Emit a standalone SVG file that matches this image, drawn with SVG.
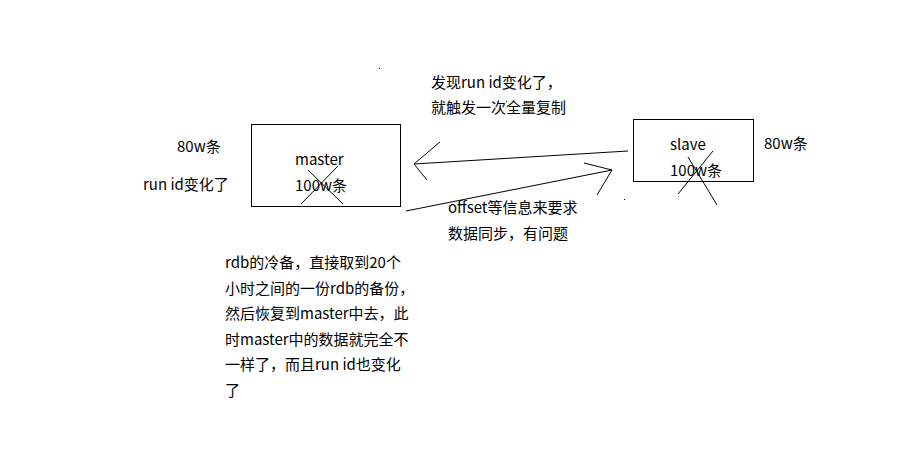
<svg xmlns="http://www.w3.org/2000/svg" width="898" height="455" viewBox="0 0 898 455">
<style>
text{font-family:"Noto Sans CJK SC","Noto Sans",sans-serif;font-size:15px;fill:#000}
.box{fill:none;stroke:#000;stroke-width:1}
.ln{stroke:#000;stroke-width:1;fill:none}
</style>
<rect width="898" height="455" fill="#fff"/>
<g id="master">
<rect class="box" x="251.5" y="124.5" width="149" height="82"/>
<text x="295" y="165">master</text>
<text x="295" y="191">100w条</text>
<line class="ln" x1="301" y1="204" x2="338" y2="166"/>
<line class="ln" x1="308" y1="170" x2="343" y2="204"/>
</g>
<g id="slave">
<rect class="box" x="633.5" y="119.5" width="120" height="62"/>
<text x="670" y="150">slave</text>
<text x="670" y="176">100w条</text>
<line class="ln" x1="678" y1="194" x2="713" y2="151"/>
<line class="ln" x1="688" y1="157" x2="717" y2="205"/>
</g>
<g id="connectors">
<line class="ln" x1="628" y1="151" x2="414" y2="164"/>
<polyline class="ln" points="440,142 414,164 427,180"/>
<line class="ln" x1="406" y1="211" x2="612" y2="170"/>
<polyline class="ln" points="584,163 612,170 597,195"/>
</g>
<g id="labels">
<text x="431" y="88">发现run id变化了，</text>
<text x="431" y="113">就触发一次全量复制</text>
<text x="448" y="213">offset等信息来要求</text>
<text x="448" y="239">数据同步，有问题</text>
<text x="177" y="152">80w条</text>
<text x="143" y="190">run id变化了</text>
<text x="764" y="149">80w条</text>
<text x="225" y="268">rdb的冷备，直接取到20个</text>
<text x="225" y="294">小时之间的一份rdb的备份，</text>
<text x="225" y="319">然后恢复到master中去，此</text>
<text x="225" y="345">时master中的数据就完全不</text>
<text x="225" y="370">一样了，而且run id也变化</text>
<text x="225" y="396">了</text>
</g>
<rect x="379" y="68" width="1" height="1" fill="#000"/>
<rect x="506" y="101" width="1" height="1" fill="#000"/>
<rect x="624" y="199" width="1" height="1" fill="#000"/>
</svg>
